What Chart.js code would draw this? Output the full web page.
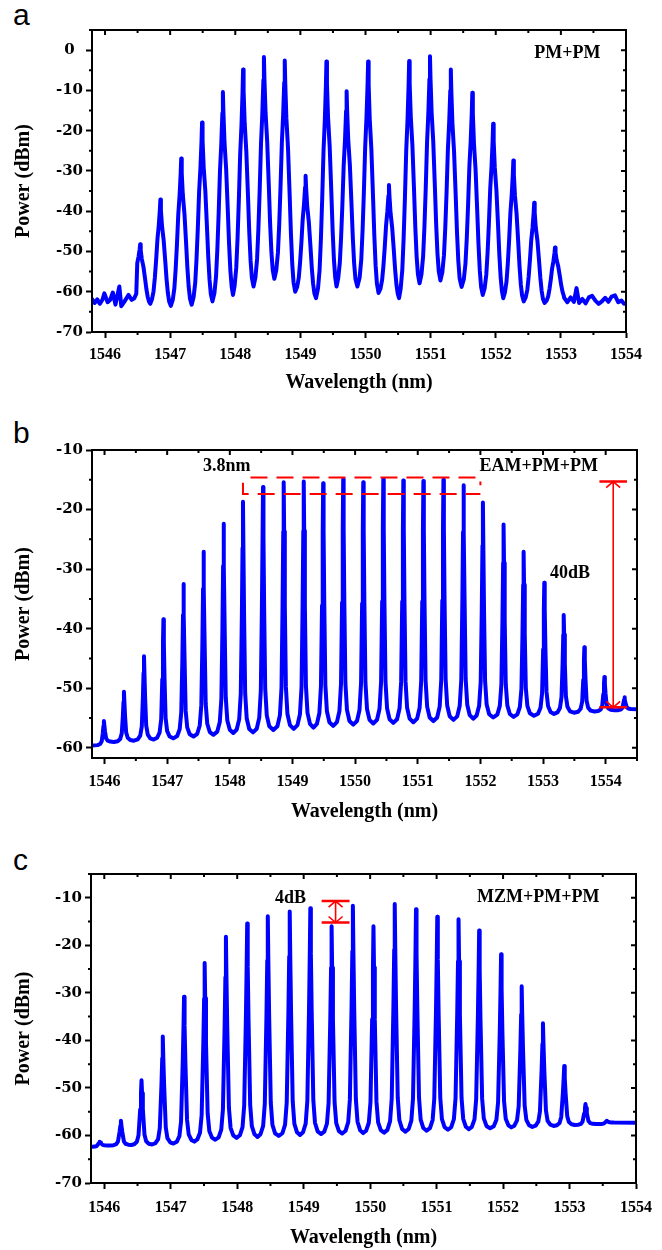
<!DOCTYPE html>
<html>
<head>
<meta charset="utf-8">
<script src="https://cdn.jsdelivr.net/npm/chart.js@4.4.1/dist/chart.umd.min.js"></script>
<style>
  body { margin: 0; background: #fff; width: 662px; height: 1250px; position: relative; overflow: hidden; }
  canvas { position: absolute; left: 0; }
  .letter { position: absolute; left: 13px; font: 30px "Liberation Sans", Arial, sans-serif; line-height: 1; color: #000; }
</style>
</head>
<body>
<div class="letter" style="top:0px">a</div>
<div class="letter" style="top:418px">b</div>
<div class="letter" style="top:845px">c</div>
<canvas id="chartA" width="662" height="410" style="top:0px"></canvas>
<canvas id="chartB" width="662" height="410" style="top:420px"></canvas>
<canvas id="chartC" width="662" height="410" style="top:840px"></canvas>
<script>
// ---------- panel a : PM+PM ----------
const aPeakNm = [1546.54, 1546.85, 1547.17, 1547.49, 1547.81, 1548.12, 1548.44, 1548.76, 1549.08, 1549.40, 1549.71,
                 1550.04, 1550.36, 1550.67, 1550.99, 1551.31, 1551.64, 1551.96, 1552.27, 1552.59, 1552.91];
const aPeakDb = [-48.2, -37.1, -26.9, -18.0, -10.4, -4.8, -1.7, -2.6, -31.2, -2.8, -10.2,
                 -2.8, -33.5, -2.7, -1.5, -4.8, -10.6, -18.3, -27.4, -37.9, -49.0];
const aValleyDb = [-63.0, -63.5, -63.2, -62.4, -60.8, -58.7, -56.8, -60.0, -61.6, -58.7,
                   -58.7, -60.3, -61.6, -57.9, -57.2, -58.8, -60.8, -61.6, -62.4, -62.8];
const aNoiseLeftNm = [1545.80, 1545.84, 1545.88, 1545.92, 1545.96, 1545.99, 1546.04, 1546.08, 1546.12,
                      1546.16, 1546.22, 1546.25, 1546.30, 1546.36, 1546.41, 1546.45, 1546.48];
const aNoiseLeftDb = [-61.8, -62.8, -61.9, -63.0, -62.0, -60.4, -62.6, -62.0, -60.2,
                      -63.2, -58.7, -63.6, -62.4, -60.8, -62.0, -61.6, -60.5];
const aNoiseRightNm = [1553.05, 1553.10, 1553.15, 1553.20, 1553.24, 1553.28, 1553.33, 1553.38, 1553.43, 1553.48, 1553.53,
                       1553.58, 1553.63, 1553.68, 1553.73, 1553.78, 1553.83, 1553.88, 1553.93, 1553.97, 1554.00];
const aNoiseRightDb = [-61.5, -62.6, -61.4, -62.5, -59.1, -62.8, -61.8, -62.9, -61.4, -61.0, -62.2,
                       -63.0, -62.4, -61.5, -62.5, -61.2, -60.9, -62.6, -62.2, -63.0, -62.8];

// ---------- panel b : EAM+PM+PM ----------
const bPeakNm = [1545.99, 1546.31, 1546.63, 1546.94, 1547.26, 1547.58, 1547.90, 1548.21, 1548.53, 1548.86, 1549.18, 1549.49, 1549.81, 1550.13,
                 1550.45, 1550.77, 1551.09, 1551.41, 1551.73, 1552.04, 1552.37, 1552.69, 1553.02, 1553.33, 1553.66, 1553.98, 1554.30];
const bPeakDb = [-55.5, -50.6, -44.6, -38.4, -32.5, -27.1, -22.4, -18.7, -16.2, -15.4, -15.3, -15.6, -14.9, -15.4,
                 -14.9, -15.1, -15.2, -15.0, -15.9, -18.8, -22.5, -27.1, -32.3, -37.7, -43.1, -48.1, -51.5];
const bValleyDb = [-59.0, -58.8, -58.6, -58.4, -58.1, -57.8, -57.5, -57.4, -57.0, -56.8, -56.6, -56.3, -56.1,
                   -55.9, -55.8, -55.7, -55.5, -55.3, -55.1, -54.9, -54.8, -54.6, -54.3, -54.1, -53.9, -53.7];
const bEndNm = [1545.80, 1554.50];
const bEndDb = [-59.6, -53.5];
const bSpanNm = [1548.21, 1552.00];      // dashed 3.8 nm box
const bSpanDb = [-14.6, -17.4];
const bArrowNm = 1554.12;                // 40 dB arrow
const bArrowDb = [-15.3, -53.2];

// ---------- panel c : MZM+PM+PM ----------
const cPeakNm = [1545.93, 1546.25, 1546.56, 1546.88, 1547.20, 1547.51, 1547.83, 1548.15, 1548.46, 1548.79, 1549.10, 1549.42, 1549.74,
                 1550.05, 1550.37, 1550.69, 1551.01, 1551.33, 1551.64, 1551.97, 1552.28, 1552.60, 1552.92, 1553.24, 1553.56];
const cPeakDb = [-61.3, -56.9, -48.4, -39.2, -30.8, -23.7, -18.2, -15.4, -13.9, -12.9, -12.2, -16.0, -11.7,
                 -16.0, -11.3, -12.4, -14.0, -14.5, -16.9, -21.9, -28.6, -36.4, -45.4, -53.4, -56.9];
const cValleyDb = [-62.1, -62.0, -61.9, -61.7, -61.3, -60.9, -60.5, -60.3, -60.1, -59.9, -59.7, -59.6,
                   -59.5, -59.4, -59.2, -59.0, -58.8, -58.7, -58.5, -58.3, -58.2, -58.0, -57.8, -57.6];
const cEndNm = [1545.80, 1554.00];
const cEndDb = [-62.4, -57.3];
const cArrowNm = 1549.48;                // 4 dB arrow
const cArrowDb = [-10.7, -15.2];

const BLUE = '#0000ff', RED = '#ff0000';

// line profile of one comb line (offset in nm, share of the rise above the floor)
const wideLine = { dx: [-0.13, -0.105, -0.085, -0.065, -0.045, -0.025, -0.008, 0, 0.008, 0.025, 0.05, 0.075, 0.095, 0.115, 0.135],
                   f:  [0.04, 0.12, 0.25, 0.42, 0.62, 0.75, 0.9, 1, 0.9, 0.75, 0.62, 0.42, 0.25, 0.12, 0.04] };
const narrowLine = { dx: [-0.1, -0.06, -0.035, -0.018, -0.007, 0, 0.007, 0.018, 0.035, 0.06, 0.1],
                     f:  [0.015, 0.06, 0.17, 0.5, 0.8, 1, 0.8, 0.5, 0.17, 0.06, 0.015] };
const midLine = { dx: [-0.11, -0.07, -0.045, -0.02, -0.008, 0, 0.008, 0.02, 0.045, 0.07, 0.11],
                  f:  [0.012, 0.05, 0.15, 0.55, 0.8, 1, 0.8, 0.55, 0.15, 0.05, 0.012] };

function zip(xs, ys) { return xs.map((x, i) => ({ x: x, y: ys[i] })); }

function buildTrace(startPts, peakNm, peakDb, valleyDb, endPts, shape) {
  const raw = startPts.slice();
  const n = peakNm.length;
  const firstV = startPts[startPts.length - 1].y, lastV = endPts[0].y;
  for (let i = 0; i < n; i++) {
    const vl = i === 0 ? firstV : valleyDb[i - 1];
    const vr = i === n - 1 ? lastV : valleyDb[i];
    shape.dx.forEach((d, k) => {
      const base = d < 0 ? vl : vr;
      raw.push({ x: peakNm[i] + d, y: base + (peakDb[i] - base) * shape.f[k] });
    });
    if (i < n - 1) raw.push({ x: (peakNm[i] + peakNm[i + 1]) / 2, y: valleyDb[i] });
  }
  endPts.forEach(p => raw.push(p));
  const pts = [];
  raw.forEach(p => { if (!pts.length || p.x > pts[pts.length - 1].x) pts.push(p); });
  return pts;
}

// minor ticks, mirrored ticks on top/right, closed frame
const frameTicks = {
  id: 'frameTicks',
  afterDatasetsDraw(chart) {
    const { ctx, chartArea: a } = chart;
    const x = chart.scales.x, y = chart.scales.y;
    ctx.save();
    ctx.strokeStyle = '#000';
    ctx.lineWidth = 2;
    ctx.beginPath();
    for (let v = Math.ceil(x.min * 2) / 2; v <= x.max + 1e-6; v += 0.5) {
      const px = x.getPixelForValue(v);
      const major = Math.abs(v - Math.round(v)) < 1e-6;
      if (!major) { ctx.moveTo(px, a.bottom); ctx.lineTo(px, a.bottom + 3); }
      ctx.moveTo(px, a.top); ctx.lineTo(px, a.top + (major ? 5 : 3));
    }
    for (let v = Math.ceil(y.min / 5) * 5; v <= y.max + 1e-6; v += 5) {
      const py = y.getPixelForValue(v);
      const major = v % 10 === 0;
      if (!major) { ctx.moveTo(a.left, py); ctx.lineTo(a.left - 3, py); }
      ctx.moveTo(a.right, py); ctx.lineTo(a.right - (major ? 5 : 3), py);
    }
    ctx.stroke();
    ctx.strokeRect(a.left, a.top, a.right - a.left, a.bottom - a.top);
    ctx.restore();
  }
};

// text notes and double arrows, placed in data units
const notes = {
  id: 'notes',
  afterDatasetsDraw(chart, args, opts) {
    const { ctx } = chart;
    const x = chart.scales.x, y = chart.scales.y;
    ctx.save();
    (opts.arrows || []).forEach(ar => {
      const px = x.getPixelForValue(ar.nm);
      const c0 = x.getPixelForValue(ar.nm - ar.cap), c1 = x.getPixelForValue(ar.nm + ar.cap);
      const yt = y.getPixelForValue(ar.db[0]), yb = y.getPixelForValue(ar.db[1]);
      ctx.strokeStyle = RED;
      ctx.lineWidth = 1.6;
      ctx.beginPath();
      ctx.moveTo(px, yt); ctx.lineTo(px, yb);
      ctx.moveTo(px - 7, yt + 6); ctx.lineTo(px, yt); ctx.lineTo(px + 7, yt + 6);
      ctx.moveTo(px - 7, yb - 6); ctx.lineTo(px, yb); ctx.lineTo(px + 7, yb - 6);
      ctx.stroke();
      ctx.lineWidth = 2.5;
      ctx.beginPath();
      ctx.moveTo(c0, yt); ctx.lineTo(c1, yt);
      ctx.moveTo(c0, yb); ctx.lineTo(c1, yb);
      ctx.stroke();
    });
    ctx.fillStyle = '#000';
    ctx.font = 'bold 18px "Liberation Serif", "Times New Roman", serif';
    ctx.textAlign = 'center';
    ctx.textBaseline = 'middle';
    (opts.labels || []).forEach(l => {
      ctx.fillText(l.text, x.getPixelForValue(l.nm), y.getPixelForValue(l.db));
    });
    ctx.restore();
  }
};

function makeChart(id, cfg) {
  const datasets = [{
    data: cfg.trace, borderColor: BLUE, borderWidth: cfg.lw, pointRadius: 0,
    borderJoinStyle: 'round', borderCapStyle: 'round', order: 1
  }];
  (cfg.dashed || []).forEach(d => datasets.push({
    data: d, borderColor: RED, borderWidth: 2, borderDash: [17, 9], pointRadius: 0, order: 0
  }));
  return new Chart(document.getElementById(id), {
    type: 'line',
    data: { datasets: datasets },
    options: {
      responsive: false, animation: false, devicePixelRatio: 1,
      layout: { padding: cfg.pad },
      plugins: { legend: { display: false }, tooltip: { enabled: false },
                 notes: { labels: cfg.labels, arrows: cfg.arrows || [] } },
      scales: {
        x: {
          type: 'linear', min: cfg.xr[0], max: cfg.xr[1],
          afterFit: s => { s.height = cfg.xh; },
          grid: { display: true, drawOnChartArea: false, tickLength: 6, tickWidth: 2, tickColor: '#000' },
          border: { display: true, color: '#000', width: 2 },
          ticks: { stepSize: 1, includeBounds: false, maxRotation: 0, color: '#000', padding: cfg.xpad,
                   callback: v => String(v),
                   font: { family: '"Liberation Serif", "Times New Roman", serif', size: 16, weight: 'bold' } },
          title: { display: true, text: 'Wavelength (nm)', color: '#000', padding: { top: 0, bottom: cfg.tpad },
                   font: { family: '"Liberation Serif", "Times New Roman", serif', size: 20, weight: 'bold' } }
        },
        y: {
          min: cfg.yr[0], max: cfg.yr[1],
          afterFit: s => { s.width = cfg.yw; },
          grid: { display: true, drawOnChartArea: false, tickLength: 6, tickWidth: 2, tickColor: '#000' },
          border: { display: true, color: '#000', width: 2 },
          ticks: { stepSize: 10, includeBounds: false, crossAlign: 'center', color: '#000', padding: 3,
                   font: { family: '"DejaVu Serif", serif', size: 15, weight: 'bold' } },
          title: { display: true, text: 'Power (dBm)', color: '#000', padding: { top: 12, bottom: 0 },
                   font: { family: '"Liberation Serif", "Times New Roman", serif', size: 20, weight: 'bold' } }
        }
      }
    },
    plugins: [frameTicks, notes]
  });
}

makeChart('chartA', {
  trace: buildTrace(zip(aNoiseLeftNm, aNoiseLeftDb), aPeakNm, aPeakDb, aValleyDb, zip(aNoiseRightNm, aNoiseRightDb), wideLine),
  lw: 4, xr: [1545.8, 1554], yr: [-70, 5], pad: { top: 30, right: 36, left: 0, bottom: 0 },
  xh: 78, yw: 92, xpad: 7, tpad: 15,
  labels: [{ text: 'PM+PM', nm: 1553.10, db: -0.7 }]
});

makeChart('chartB', {
  trace: buildTrace([{ x: bEndNm[0], y: bEndDb[0] }], bPeakNm, bPeakDb, bValleyDb, [{ x: bEndNm[1], y: bEndDb[1] }], narrowLine),
  lw: 4, xr: [1545.8, 1554.5], yr: [-61.7, -10], pad: { top: 30, right: 25, left: 0, bottom: 0 },
  xh: 72, yw: 92, xpad: 8, tpad: 6,
  dashed: [
    [{ x: bSpanNm[0] + 0.12, y: bSpanDb[0] }, { x: bSpanNm[1], y: bSpanDb[0] }, { x: bSpanNm[1], y: bSpanDb[0] - 1.3 }],
    [{ x: bSpanNm[0], y: bSpanDb[0] - 0.9 }, { x: bSpanNm[0], y: bSpanDb[1] }, { x: bSpanNm[1], y: bSpanDb[1] }]
  ],
  arrows: [{ nm: bArrowNm, db: bArrowDb, cap: 0.22 }],
  labels: [{ text: '3.8nm', nm: 1547.95, db: -12.7 },
           { text: 'EAM+PM+PM', nm: 1552.93, db: -12.7 },
           { text: '40dB', nm: 1553.43, db: -30.75 }]
});

makeChart('chartC', {
  trace: buildTrace([{ x: cEndNm[0], y: cEndDb[0] }], cPeakNm, cPeakDb, cValleyDb, [{ x: cEndNm[1], y: cEndDb[1] }], midLine),
  lw: 4, xr: [1545.8, 1554], yr: [-70, -5], pad: { top: 34, right: 26, left: 0, bottom: 0 },
  xh: 67, yw: 91, xpad: 9, tpad: 0,
  arrows: [{ nm: cArrowNm, db: cArrowDb, cap: 0.21 }],
  labels: [{ text: '4dB', nm: 1548.80, db: -10.15 },
           { text: 'MZM+PM+PM', nm: 1552.53, db: -9.9 }]
});
</script>
</body>
</html>
